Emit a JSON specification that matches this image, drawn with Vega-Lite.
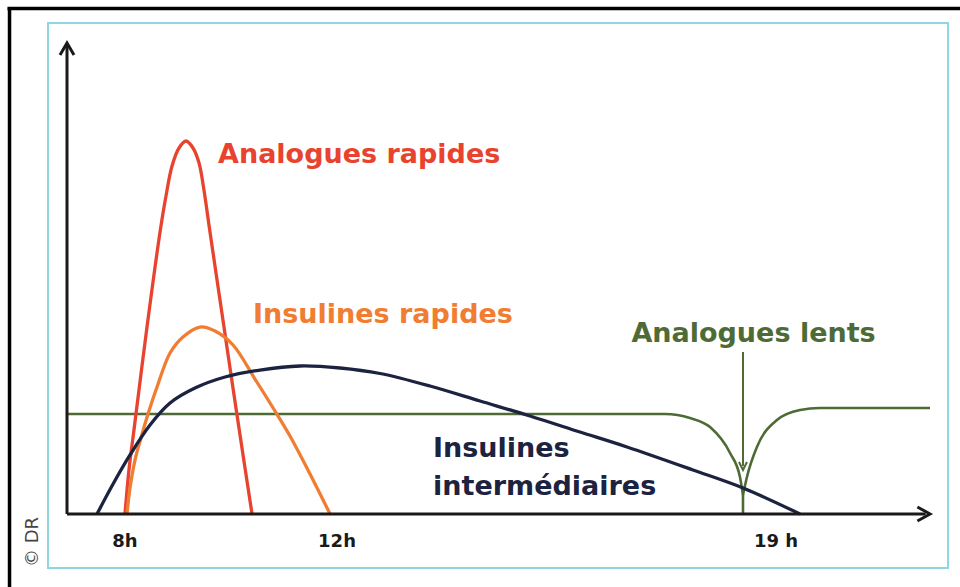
{
  "$schema": "https://vega.github.io/schema/vega-lite/v6.json",
  "width": 863,
  "height": 471,
  "autosize": {"type": "none"},
  "padding": {"left": 67, "top": 43, "right": 30, "bottom": 73},
  "background": "white",
  "config": {"view": {"stroke": null}},
  "datasets": {
    "cadre": [
      {"t": -6.66, "v": 107.3, "t2": -6.66, "v2": -16},
      {"t": -6.9, "v": 107.3, "t2": 104, "v2": 107.3}
    ],
    "boite": [{"t": -2.2, "t2": 102.09, "v": -11.46, "v2": 104.25}],
    "axes": [
      {"t": 0, "v": 0, "t2": 0, "v2": 99.5},
      {"t": 0, "v": 0, "t2": 99.5, "v2": 0}
    ],
    "courbes": [
      {"serie": "Analogues rapides", "t": 6.72, "v": 0},
      {"serie": "Analogues rapides", "t": 7.18, "v": 9.34},
      {"serie": "Analogues rapides", "t": 7.76, "v": 17.83},
      {"serie": "Analogues rapides", "t": 9.27, "v": 39.7},
      {"serie": "Analogues rapides", "t": 10.78, "v": 59.87},
      {"serie": "Analogues rapides", "t": 11.47, "v": 67.52},
      {"serie": "Analogues rapides", "t": 12.17, "v": 73.89},
      {"serie": "Analogues rapides", "t": 12.98, "v": 77.71},
      {"serie": "Analogues rapides", "t": 13.79, "v": 79.19},
      {"serie": "Analogues rapides", "t": 14.6, "v": 77.71},
      {"serie": "Analogues rapides", "t": 15.3, "v": 74.52},
      {"serie": "Analogues rapides", "t": 15.87, "v": 68.79},
      {"serie": "Analogues rapides", "t": 16.45, "v": 61.36},
      {"serie": "Analogues rapides", "t": 18.19, "v": 39.7},
      {"serie": "Analogues rapides", "t": 19.7, "v": 21.02},
      {"serie": "Analogues rapides", "t": 21.44, "v": 0},
      {"serie": "Insulines rapides", "t": 6.95, "v": 0},
      {"serie": "Insulines rapides", "t": 7.3, "v": 5.52},
      {"serie": "Insulines rapides", "t": 7.88, "v": 11.46},
      {"serie": "Insulines rapides", "t": 8.57, "v": 16.14},
      {"serie": "Insulines rapides", "t": 9.39, "v": 21.23},
      {"serie": "Insulines rapides", "t": 10.43, "v": 26.96},
      {"serie": "Insulines rapides", "t": 11.94, "v": 34.18},
      {"serie": "Insulines rapides", "t": 13.44, "v": 37.58},
      {"serie": "Insulines rapides", "t": 15.41, "v": 39.7},
      {"serie": "Insulines rapides", "t": 17.15, "v": 38.85},
      {"serie": "Insulines rapides", "t": 19.24, "v": 35.88},
      {"serie": "Insulines rapides", "t": 21.78, "v": 28.66},
      {"serie": "Insulines rapides", "t": 24.1, "v": 21.87},
      {"serie": "Insulines rapides", "t": 25.84, "v": 16.56},
      {"serie": "Insulines rapides", "t": 28.16, "v": 8.49},
      {"serie": "Insulines rapides", "t": 30.48, "v": 0},
      {"serie": "Insulines intermédiaires", "t": 3.48, "v": 0},
      {"serie": "Insulines intermédiaires", "t": 5.21, "v": 5.94},
      {"serie": "Insulines intermédiaires", "t": 7.3, "v": 12.53},
      {"serie": "Insulines intermédiaires", "t": 9.62, "v": 18.9},
      {"serie": "Insulines intermédiaires", "t": 11.94, "v": 23.57},
      {"serie": "Insulines intermédiaires", "t": 14.83, "v": 26.75},
      {"serie": "Insulines intermédiaires", "t": 18.31, "v": 29.09},
      {"serie": "Insulines intermédiaires", "t": 22.36, "v": 30.57},
      {"serie": "Insulines intermédiaires", "t": 27.0, "v": 31.42},
      {"serie": "Insulines intermédiaires", "t": 31.63, "v": 31.0},
      {"serie": "Insulines intermédiaires", "t": 36.27, "v": 29.83},
      {"serie": "Insulines intermédiaires", "t": 42.06, "v": 27.18},
      {"serie": "Insulines intermédiaires", "t": 47.86, "v": 23.99},
      {"serie": "Insulines intermédiaires", "t": 53.65, "v": 20.81},
      {"serie": "Insulines intermédiaires", "t": 59.44, "v": 17.41},
      {"serie": "Insulines intermédiaires", "t": 64.89, "v": 14.23},
      {"serie": "Insulines intermédiaires", "t": 72.54, "v": 9.34},
      {"serie": "Insulines intermédiaires", "t": 78.33, "v": 5.52},
      {"serie": "Insulines intermédiaires", "t": 84.94, "v": 0}
    ],
    "lents": [
      {"segment": "avant", "t": 0, "v": 21.23},
      {"segment": "avant", "t": 61.76, "v": 21.23},
      {"segment": "avant", "t": 69.29, "v": 21.23},
      {"segment": "avant", "t": 72.19, "v": 20.38},
      {"segment": "avant", "t": 74.51, "v": 18.47},
      {"segment": "avant", "t": 76.83, "v": 12.95},
      {"segment": "avant", "t": 77.98, "v": 7.86},
      {"segment": "avant", "t": 78.33, "v": 4.03},
      {"segment": "apres", "t": 78.33, "v": 4.03},
      {"segment": "apres", "t": 78.79, "v": 7.86},
      {"segment": "apres", "t": 79.95, "v": 14.23},
      {"segment": "apres", "t": 82.27, "v": 19.96},
      {"segment": "apres", "t": 84.94, "v": 22.08},
      {"segment": "apres", "t": 87.25, "v": 22.51},
      {"segment": "apres", "t": 94.2, "v": 22.51},
      {"segment": "apres", "t": 100, "v": 22.51}
    ],
    "creux": [{"t": 78.33, "v": 4.03, "v2": 0}],
    "fleche_lente": [{"t": 78.33, "v": 34.39, "v2": 10.2, "pointe": 9.34}],
    "etiquettes": [
      {"label": "Analogues rapides", "serie": "Analogues rapides", "t": 17.5, "v": 74.52},
      {"label": "Insulines rapides", "serie": "Insulines rapides", "t": 21.55, "v": 40.55},
      {"label": "Analogues lents", "serie": "Analogues lents", "t": 65.4, "v": 36.52},
      {"label": "Insulines", "serie": "Insulines intermédiaires", "t": 42.41, "v": 12.1},
      {"label": "intermédiaires", "serie": "Insulines intermédiaires", "t": 42.41, "v": 4.03}
    ],
    "heures": [
      {"label": "8h", "t": 6.72, "v": -7.0},
      {"label": "12h", "t": 31.29, "v": -7.0},
      {"label": "19 h", "t": 82.16, "v": -7.0}
    ],
    "credit": [{"label": "© DR", "t": -3.94, "v": -5.94}]
  },
  "layer": [
    {
      "data": {"name": "cadre"},
      "mark": {"type": "rule", "color": "#000000", "strokeWidth": 3.5},
      "encoding": {
        "x": {"field": "t", "type": "quantitative", "scale": {"domain": [0, 100], "nice": false, "zero": false}, "axis": null},
        "y": {"field": "v", "type": "quantitative", "scale": {"domain": [0, 100], "nice": false, "zero": false}, "axis": null},
        "x2": {"field": "t2"},
        "y2": {"field": "v2"}
      }
    },
    {
      "data": {"name": "boite"},
      "mark": {"type": "rect", "fill": "transparent", "stroke": "#8fd6e4", "strokeWidth": 2},
      "encoding": {
        "x": {"field": "t", "type": "quantitative"},
        "x2": {"field": "t2"},
        "y": {"field": "v", "type": "quantitative"},
        "y2": {"field": "v2"}
      }
    },
    {
      "data": {"name": "lents"},
      "mark": {"type": "line", "interpolate": "monotone", "color": "#4e6b36", "strokeWidth": 2.6},
      "encoding": {
        "x": {"field": "t", "type": "quantitative"},
        "y": {"field": "v", "type": "quantitative"},
        "detail": {"field": "segment"}
      }
    },
    {
      "data": {"name": "creux"},
      "mark": {"type": "rule", "color": "#4e6b36", "strokeWidth": 2.6},
      "encoding": {
        "x": {"field": "t", "type": "quantitative"},
        "y": {"field": "v", "type": "quantitative"},
        "y2": {"field": "v2"}
      }
    },
    {
      "data": {"name": "fleche_lente"},
      "mark": {"type": "rule", "color": "#4e6b36", "strokeWidth": 2},
      "encoding": {
        "x": {"field": "t", "type": "quantitative"},
        "y": {"field": "v", "type": "quantitative"},
        "y2": {"field": "v2"}
      }
    },
    {
      "data": {"name": "fleche_lente"},
      "mark": {"type": "point", "shape": "M-1,-2L0,0L1,-2", "size": 64, "filled": false, "stroke": "#4e6b36", "strokeWidth": 2, "opacity": 1},
      "encoding": {
        "x": {"field": "t", "type": "quantitative"},
        "y": {"field": "pointe", "type": "quantitative"}
      }
    },
    {
      "data": {"name": "courbes"},
      "mark": {"type": "line", "interpolate": "catmull-rom", "strokeWidth": 3.3},
      "encoding": {
        "x": {"field": "t", "type": "quantitative"},
        "y": {"field": "v", "type": "quantitative"},
        "color": {
          "field": "serie",
          "type": "nominal",
          "scale": {
            "domain": ["Analogues rapides", "Insulines rapides", "Insulines intermédiaires", "Analogues lents"],
            "range": ["#e8432e", "#f07d31", "#1c2340", "#4e6b36"]
          },
          "legend": null
        }
      }
    },
    {
      "data": {"name": "axes"},
      "mark": {"type": "rule", "color": "#1a1a1a", "strokeWidth": 3},
      "encoding": {
        "x": {"field": "t", "type": "quantitative"},
        "y": {"field": "v", "type": "quantitative"},
        "x2": {"field": "t2"},
        "y2": {"field": "v2"}
      }
    },
    {
      "data": {"values": [{"t": 0, "v": 100}]},
      "mark": {"type": "point", "shape": "M-1,1.7L0,0L1,1.7", "size": 196, "filled": false, "stroke": "#1a1a1a", "strokeWidth": 3, "opacity": 1},
      "encoding": {
        "x": {"field": "t", "type": "quantitative"},
        "y": {"field": "v", "type": "quantitative"}
      }
    },
    {
      "data": {"values": [{"t": 100, "v": 0}]},
      "mark": {"type": "point", "shape": "M-1.8,-1L0,0L-1.8,1", "size": 196, "filled": false, "stroke": "#1a1a1a", "strokeWidth": 3, "opacity": 1},
      "encoding": {
        "x": {"field": "t", "type": "quantitative"},
        "y": {"field": "v", "type": "quantitative"}
      }
    },
    {
      "data": {"name": "etiquettes"},
      "mark": {"type": "text", "align": "left", "baseline": "alphabetic", "font": "DejaVu Sans", "fontWeight": "bold", "fontSize": 27},
      "encoding": {
        "x": {"field": "t", "type": "quantitative"},
        "y": {"field": "v", "type": "quantitative"},
        "text": {"field": "label"},
        "color": {"field": "serie", "type": "nominal", "legend": null}
      }
    },
    {
      "data": {"name": "heures"},
      "mark": {"type": "text", "align": "center", "baseline": "alphabetic", "font": "DejaVu Sans", "fontWeight": "bold", "fontSize": 18, "color": "#1a1a1a"},
      "encoding": {
        "x": {"field": "t", "type": "quantitative"},
        "y": {"field": "v", "type": "quantitative"},
        "text": {"field": "label"}
      }
    },
    {
      "data": {"name": "credit"},
      "mark": {"type": "text", "align": "center", "baseline": "middle", "angle": 270, "font": "DejaVu Sans", "fontSize": 18, "color": "#444444"},
      "encoding": {
        "x": {"field": "t", "type": "quantitative"},
        "y": {"field": "v", "type": "quantitative"},
        "text": {"field": "label"}
      }
    }
  ]
}
